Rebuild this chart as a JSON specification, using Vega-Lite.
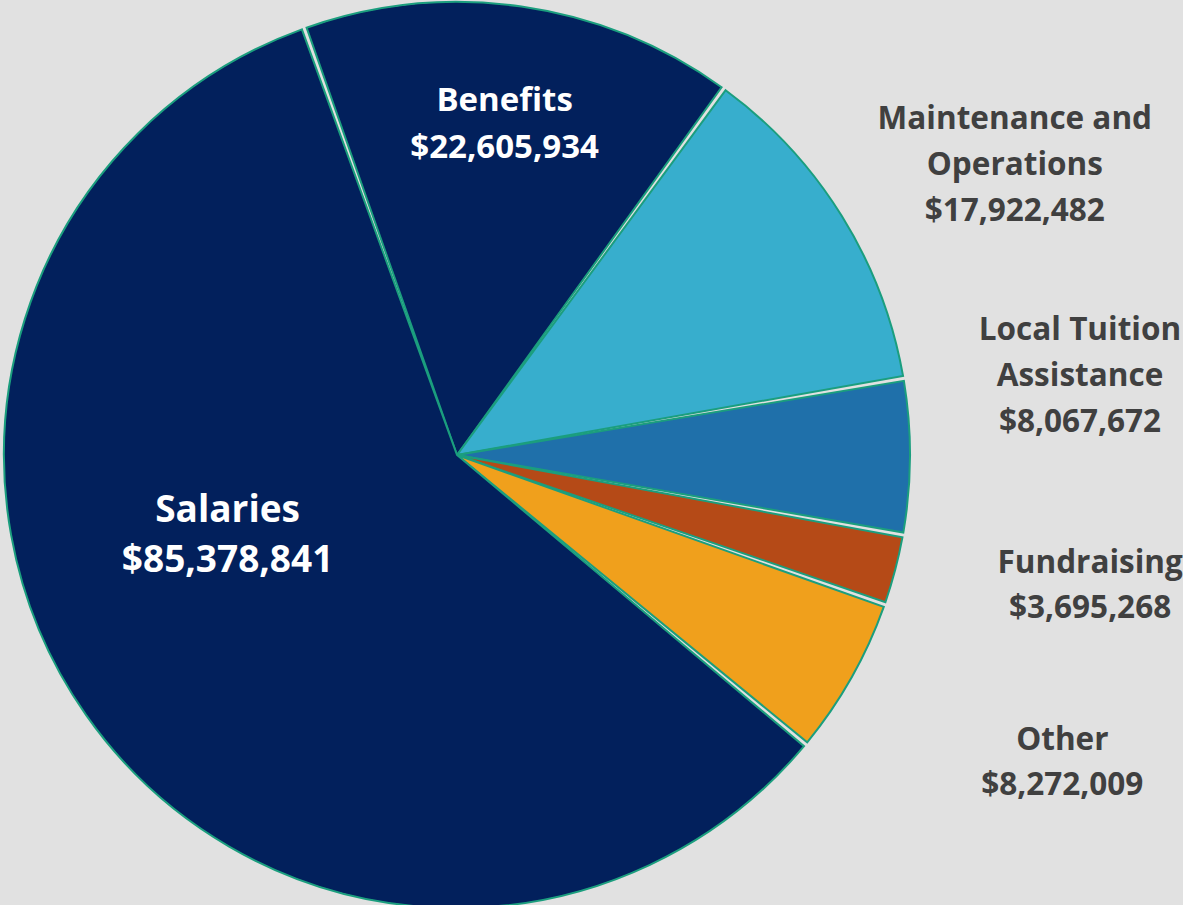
{
  "$schema": "https://vega.github.io/schema/vega-lite/v6.json",
  "width": 914,
  "height": 910,
  "autosize": "none",
  "padding": {"left": 0, "top": 0, "right": 269, "bottom": 0},
  "background": "#e1e1e1",
  "view": {"stroke": null},
  "config": {"font": "Open Sans"},
  "data": {"values": [
    {"category": "Benefits", "amount": 22605934, "order": 1, "label": "Benefits\n$22,605,934"},
    {"category": "Maintenance and Operations", "amount": 17922482, "order": 2, "label": "Maintenance and\nOperations\n$17,922,482"},
    {"category": "Local Tuition Assistance", "amount": 8067672, "order": 3, "label": "Local Tuition\nAssistance\n$8,067,672"},
    {"category": "Fundraising", "amount": 3695268, "order": 4, "label": "Fundraising\n$3,695,268"},
    {"category": "Other", "amount": 8272009, "order": 5, "label": "Other\n$8,272,009"},
    {"category": "Salaries", "amount": 85378841, "order": 6, "label": "Salaries\n$85,378,841"}
  ]},
  "encoding": {
    "theta": {"field": "amount", "type": "quantitative", "stack": true, "scale": {"range": [-0.344, 5.9392]}},
    "order": {"field": "order", "type": "quantitative"}
  },
  "layer": [
    {
      "mark": {"type": "arc", "outerRadius": 453, "stroke": "#1b9e7e", "strokeWidth": 2, "padAngle": 0.011},
      "encoding": {
        "color": {"field": "category", "type": "nominal", "legend": null,
          "scale": {"domain": ["Benefits", "Maintenance and Operations", "Local Tuition Assistance", "Fundraising", "Other", "Salaries"],
                    "range": ["#02205c", "#37aecd", "#1f70aa", "#b54a17", "#f0a01c", "#02205c"]}}
      }
    },
    {
      "mark": {"type": "text", "radius": 335, "dy": -22, "font": "Open Sans", "fontWeight": "bold", "fontSize": 33, "lineHeight": 47, "lineBreak": "\n", "color": "#ffffff", "align": "center", "baseline": "middle"},
      "encoding": {"text": {"condition": {"test": "datum.category === 'Benefits'", "field": "label"}, "value": ""}}
    },
    {
      "mark": {"type": "text", "radius": 243.5, "dx": -30, "dy": -84, "font": "Open Sans", "fontWeight": "bold", "fontSize": 37, "lineHeight": 50, "lineBreak": "\n", "color": "#ffffff", "align": "center", "baseline": "middle"},
      "encoding": {"text": {"condition": {"test": "datum.category === 'Salaries'", "field": "label"}, "value": ""}}
    },
    {
      "mark": {"type": "text", "radius": 453, "dx": 173, "dy": -96, "font": "Open Sans", "fontWeight": "bold", "fontSize": 31.5, "lineHeight": 46, "lineBreak": "\n", "color": "#404040", "align": "center", "baseline": "middle"},
      "encoding": {"text": {"condition": {"test": "datum.category === 'Maintenance and Operations'", "field": "label"}, "value": ""}}
    },
    {
      "mark": {"type": "text", "radius": 453, "dx": 170, "dy": -126, "font": "Open Sans", "fontWeight": "bold", "fontSize": 31.5, "lineHeight": 46, "lineBreak": "\n", "color": "#404040", "align": "center", "baseline": "middle"},
      "encoding": {"text": {"condition": {"test": "datum.category === 'Local Tuition Assistance'", "field": "label"}, "value": ""}}
    },
    {
      "mark": {"type": "text", "radius": 453, "dx": 195, "dy": -6, "font": "Open Sans", "fontWeight": "bold", "fontSize": 31.5, "lineHeight": 45, "lineBreak": "\n", "color": "#404040", "align": "center", "baseline": "middle"},
      "encoding": {"text": {"condition": {"test": "datum.category === 'Fundraising'", "field": "label"}, "value": ""}}
    },
    {
      "mark": {"type": "text", "radius": 453, "dx": 211, "dy": 63, "font": "Open Sans", "fontWeight": "bold", "fontSize": 31.5, "lineHeight": 45, "lineBreak": "\n", "color": "#404040", "align": "center", "baseline": "middle"},
      "encoding": {"text": {"condition": {"test": "datum.category === 'Other'", "field": "label"}, "value": ""}}
    }
  ]
}
